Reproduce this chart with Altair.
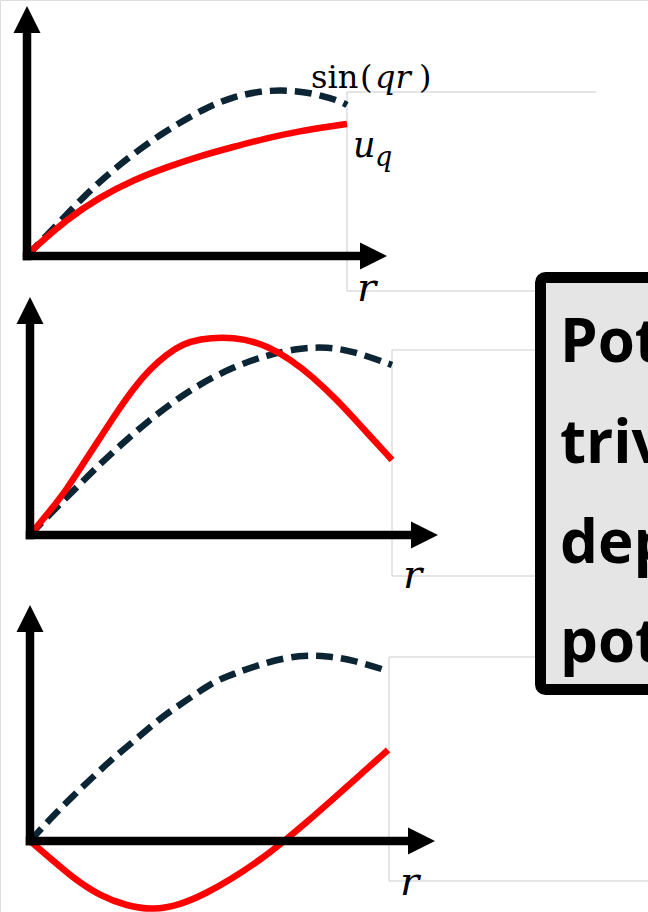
import altair as alt
import pandas as pd

W, H = 648, 912

# ---- panel axes (diagram units: slide pixels) ----
origin_x = [27, 30, 30]
origin_y = [256, 535, 841]
y_tip = [6, 297, 605]
x_tip = [387, 438, 435]
HEAD = 27

# ---- curves ----
sin1_x = [27, 40, 55, 83, 117, 163, 207, 233, 260, 287, 313, 340, 347]
sin1_y = [256, 242, 227, 197, 166, 132, 107, 97, 91, 90, 93, 101, 105]
u1_x = [27, 33, 67, 100, 133, 167, 200, 233, 267, 300, 333, 347]
u1_y = [256, 249, 219, 197, 180, 167, 156, 147, 138, 131, 126, 124]

sin2_x = [30, 50, 73, 100, 123, 147, 173, 200, 233, 267, 300, 327, 353, 392]
sin2_y = [535, 514, 491, 464, 443, 422, 402, 384, 367, 355, 348, 347, 351, 365]
u2_x = [30, 50, 67, 83, 100, 117, 133, 150, 167, 183, 200, 222, 245, 267, 290, 313, 337, 360, 392]
u2_y = [535, 511, 489, 464, 438, 412, 389, 369, 354, 344, 339, 337, 339, 346, 359, 377, 400, 425, 460]

sin3_x = [30, 53, 73, 93, 113, 140, 163, 187, 213, 233, 267, 300, 327, 353, 388]
sin3_y = [841, 816, 796, 777, 758, 736, 716, 700, 682, 674, 662, 655, 656, 660, 671]
u3_x = [30, 50, 73, 100, 127, 153, 180, 207, 233, 260, 283, 307, 333, 360, 388]
u3_y = [841, 858, 878, 896, 906, 910, 905, 893, 878, 860, 842, 822, 799, 775, 750]

# ---- grey frame lines of the slide objects ----
frame_x1 = [347, 347, 347, 392, 392, 392, 389, 389, 389]
frame_y1 = [92, 92, 291, 350, 350, 576, 657, 657, 881]
frame_x2 = [596, 347, 535, 535, 392, 535, 535, 389, 648]
frame_y2 = [92, 291, 291, 350, 576, 576, 657, 881, 881]

# ---- texts ----
box_lines = ["Pot", "triv", "dep", "pot"]
box_baselines = [362, 463, 563, 662]
r_x = [357, 403, 400]
r_y = [301, 588, 895]

X = lambda f="x": alt.X(f"{f}:Q", scale=alt.Scale(domain=[0, W], nice=False, zero=False), axis=None)
Y = lambda f="y": alt.Y(f"{f}:Q", scale=alt.Scale(domain=[H, 0], nice=False, zero=False), axis=None)


def curves(pairs):
    rows = []
    for c, (xs, ys) in enumerate(pairs):
        for i, (a, b) in enumerate(zip(xs, ys)):
            rows.append({"curve": c, "i": i, "x": a, "y": b})
    return pd.DataFrame(rows)


sin_df = curves([(sin1_x, sin1_y), (sin2_x, sin2_y), (sin3_x, sin3_y)])
u_df = curves([(u1_x, u1_y), (u2_x, u2_y), (u3_x, u3_y)])

frame_df = pd.DataFrame({"x": frame_x1, "y": frame_y1, "x2": frame_x2, "y2": frame_y2})
frames = alt.Chart(frame_df).mark_rule(color="#cccccc", strokeWidth=1).encode(
    x=X(), y=Y(), x2="x2:Q", y2="y2:Q")

half = 4.25
axes_rows = []
for ox, oy, yt, xt in zip(origin_x, origin_y, y_tip, x_tip):
    axes_rows.append({"x": ox, "y": oy + half, "x2": ox, "y2": yt + HEAD - 1})
    axes_rows.append({"x": ox - half, "y": oy, "x2": xt - HEAD + 1, "y2": oy})
axes = alt.Chart(pd.DataFrame(axes_rows)).mark_rule(color="black", strokeWidth=8.5).encode(
    x=X(), y=Y(), x2="x2:Q", y2="y2:Q")

up_df = pd.DataFrame({"x": origin_x, "y": [t + HEAD / 2 for t in y_tip]})
right_df = pd.DataFrame({"x": [t - HEAD / 2 for t in x_tip], "y": origin_y})
up = alt.Chart(up_df).mark_point(shape="M0,-1L1,1L-1,1Z", size=HEAD * HEAD, filled=True,
                                 color="black", opacity=1).encode(x=X(), y=Y())
right = alt.Chart(right_df).mark_point(shape="M1,0L-1,1L-1,-1Z", size=HEAD * HEAD, filled=True,
                                       color="black", opacity=1).encode(x=X(), y=Y())

sin_lines = alt.Chart(sin_df).mark_line(color="#0c2535", strokeWidth=6.5, strokeDash=[17, 8],
                                        interpolate="basis").encode(
    x=X(), y=Y(), detail="curve:N", order="i:Q")
u_lines = alt.Chart(u_df).mark_line(color="#ff0000", strokeWidth=6.5, interpolate="basis").encode(
    x=X(), y=Y(), detail="curve:N", order="i:Q")

serif = "DejaVu Serif"
up_txt = pd.DataFrame({"t": ["sin", "(", ")"], "x": [311, 360, 419], "y": [88, 88, 88]})
t_up = alt.Chart(up_txt).mark_text(font=serif, fontSize=32, align="left", baseline="alphabetic",
                                   color="black").encode(x=X(), y=Y(), text="t:N")
t_qr = alt.Chart(pd.DataFrame({"t": ["qr"], "x": [375], "y": [88]})).mark_text(
    font=serif, fontStyle="italic", fontSize=32, align="left", baseline="alphabetic",
    color="black").encode(x=X(), y=Y(), text="t:N")
t_u = alt.Chart(pd.DataFrame({"t": ["u"], "x": [353], "y": [157]})).mark_text(
    font=serif, fontStyle="italic", fontSize=35, align="left", baseline="alphabetic",
    color="black").encode(x=X(), y=Y(), text="t:N")
t_q = alt.Chart(pd.DataFrame({"t": ["q"], "x": [375], "y": [166]})).mark_text(
    font=serif, fontStyle="italic", fontSize=27, align="left", baseline="alphabetic",
    color="black").encode(x=X(), y=Y(), text="t:N")
t_r = alt.Chart(pd.DataFrame({"t": ["r"] * 3, "x": r_x, "y": r_y})).mark_text(
    font=serif, fontStyle="italic", fontSize=40, align="left", baseline="alphabetic",
    color="black").encode(x=X(), y=Y(), text="t:N")

box = alt.Chart(pd.DataFrame({"x": [540.5], "y": [277.5], "x2": [680], "y2": [689.5]})).mark_rect(
    fill="#e5e5e5", stroke="black", strokeWidth=11, cornerRadius=5).encode(
    x=X(), y=Y(), x2="x2:Q", y2="y2:Q")
box_txt = alt.Chart(pd.DataFrame({"t": box_lines, "x": [560] * 4, "y": box_baselines})).mark_text(
    font="Open Sans", fontWeight="bold", fontSize=60, align="left", baseline="alphabetic",
    color="black").encode(x=X(), y=Y(), text="t:N")

chart = alt.layer(
    frames, sin_lines, u_lines, axes, up, right, t_up, t_qr, t_u, t_q, t_r, box, box_txt
).properties(
    width=W, height=H, padding=0, autosize=alt.AutoSizeParams(type="none")
).configure_view(stroke=None).configure(background="white")

chart.save("out.html", embed_options={"renderer": "svg", "actions": False})
